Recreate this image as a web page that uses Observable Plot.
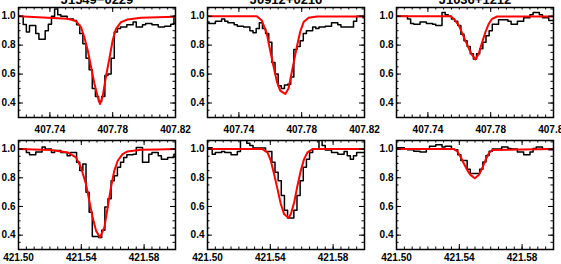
<!DOCTYPE html>
<html><head><meta charset="utf-8">
<script src="https://cdn.jsdelivr.net/npm/d3@7"></script>
<script src="https://cdn.jsdelivr.net/npm/@observablehq/plot@0.6"></script>
<style>
html,body{margin:0;padding:0;background:#fff;overflow:hidden;}
#chart{position:relative;width:561px;height:264px;overflow:hidden;background:#fff;}
#chart svg{position:absolute;}
</style></head><body><div id="chart"></div>
<script>
const titles = ["J1549\u22120229", "J0912+0216", "J1036+1212"];

const topWave = [407.720,407.722,407.724,407.726,407.728,407.730,407.732,407.734,407.736,407.738,
  407.740,407.742,407.744,407.746,407.748,407.750,407.752,407.754,407.756,407.758,
  407.760,407.762,407.764,407.766,407.768,407.770,407.772,407.774,407.776,407.778,
  407.780,407.782,407.784,407.786,407.788,407.790,407.792,407.794,407.796,407.798,
  407.800,407.802,407.804,407.806,407.808,407.810,407.812,407.814,407.816,407.818,407.820];
const bottomWave = [421.500,421.502,421.504,421.506,421.508,421.510,421.512,421.514,421.516,421.518,
  421.520,421.522,421.524,421.526,421.528,421.530,421.532,421.534,421.536,421.538,
  421.540,421.542,421.544,421.546,421.548,421.550,421.552,421.554,421.556,421.558,
  421.560,421.562,421.564,421.566,421.568,421.570,421.572,421.574,421.576,421.578,
  421.580,421.582,421.584,421.586,421.588,421.590,421.592,421.594,421.596,421.598,421.600];

const flux1 = [1.00,1.00,0.943,0.89,0.935,0.935,0.88,0.84,0.84,0.90,
  0.945,1.00,1.05,1.01,1.00,1.00,0.98,0.98,0.97,0.94,
  0.88,0.81,0.71,0.63,0.50,0.445,0.41,0.445,0.59,0.60,
  0.71,0.89,0.915,0.925,0.925,0.94,0.94,0.96,0.925,0.925,
  0.94,0.95,0.95,0.94,0.94,0.925,0.925,0.93,0.93,0.945,1.00];
const flux2 = [0.96,0.95,0.95,0.965,0.965,0.98,0.965,0.955,0.955,0.94,
  0.93,0.93,0.925,0.925,0.90,0.885,0.915,0.955,0.915,0.88,
  0.82,0.68,0.60,0.52,0.50,0.525,0.53,0.58,0.77,0.79,
  0.83,0.88,0.90,0.90,0.925,0.915,0.925,0.925,0.93,0.93,
  0.955,0.955,0.94,0.925,0.925,0.925,0.925,0.965,1.00,1.00,0.99];
const flux3 = [1.0,1.0,1.0,1.0,0.98,0.95,0.945,0.945,0.96,0.96,
  0.95,0.95,0.945,0.935,0.935,1.025,1.01,1.0,0.98,0.965,
  0.935,0.875,0.83,0.79,0.74,0.705,0.74,0.775,0.82,0.865,
  0.90,0.945,0.945,0.975,0.975,0.975,0.965,0.945,0.945,0.965,
  0.965,0.99,0.99,1.01,1.025,1.025,1.01,0.99,0.99,0.97,0.97];
const flux4 = [1.0,1.0,1.0,0.977,0.96,0.96,0.98,0.98,1.015,1.0,
  1.0,0.977,0.99,0.99,0.977,0.977,0.954,0.977,0.977,0.908,
  0.85,0.896,0.70,0.56,0.39,0.39,0.384,0.435,0.596,0.654,
  0.78,0.815,0.873,0.908,0.942,0.96,0.96,0.965,1.011,1.011,
  0.908,0.908,0.965,0.977,0.977,0.954,0.93,0.93,0.942,0.942,0.965];
const flux5 = [1.01,1.01,0.965,0.977,0.977,0.984,0.977,0.977,0.96,0.96,
  0.984,1.07,1.07,1.04,1.025,1.008,1.008,1.008,1.008,0.984,
  0.984,0.908,0.838,0.78,0.677,0.573,0.52,0.52,0.573,0.677,
  0.78,0.873,0.93,0.977,1.0,1.0,1.07,1.025,0.993,0.993,
  0.977,0.977,0.965,0.965,0.984,0.954,0.93,0.954,0.977,0.977,0.977];
const flux6 = [1.01,1.01,1.01,1.0,0.995,0.995,0.985,0.985,0.98,0.98,
  1.0,1.02,1.02,1.03,1.03,1.015,1.02,1.02,1.0,0.995,
  0.96,0.92,0.92,0.86,0.83,0.83,0.83,0.86,0.91,0.955,
  0.985,1.0,1.0,1.0,1.015,1.015,1.005,1.0,1.0,0.98,
  0.98,0.96,0.96,0.98,1.005,1.015,1.015,1.0,1.0,0.995,0.995];

const fitWave1 = [407.720,407.7513,407.7566,407.7598,407.7619,407.7641,407.7662,407.7683,407.7704,407.7719,407.7736,407.7757,407.7779,407.7800,407.7821,407.7853,407.7895,407.7980,407.8086,407.820];
const fitFlux1 = [1.000,0.982,0.966,0.925,0.856,0.765,0.651,0.537,0.445,0.393,0.445,0.583,0.708,0.834,0.913,0.959,0.977,0.989,0.993,0.996];
const fitWave2 = [407.720,407.7514,407.7546,407.7578,407.7599,407.7621,407.7642,407.7663,407.7695,407.7716,407.7727,407.7748,407.7769,407.7790,407.7812,407.7844,407.7897,407.820];
const fitFlux2 = [1.0,1.0,0.970,0.879,0.765,0.651,0.548,0.486,0.463,0.500,0.560,0.674,0.788,0.891,0.959,0.989,0.998,0.998];
const fitWave3 = [407.720,407.7544,407.7565,407.7597,407.7629,407.7661,407.7682,407.7703,407.7724,407.7746,407.7767,407.7788,407.7809,407.7841,407.820];
const fitFlux3 = [1.0,1.0,0.982,0.936,0.856,0.777,0.731,0.701,0.742,0.822,0.891,0.948,0.982,0.998,0.998];
const fitWave4 = [421.500,421.5101,421.5207,421.5313,421.5366,421.5398,421.5430,421.5451,421.5472,421.5494,421.5519,421.5547,421.5568,421.5589,421.5610,421.5632,421.5663,421.5695,421.5780,421.5886,421.600];
const fitFlux4 = [1.0,0.998,0.993,0.977,0.942,0.872,0.756,0.640,0.524,0.431,0.384,0.454,0.593,0.733,0.849,0.919,0.965,0.984,0.995,0.998,1.0];
const fitWave5 = [421.500,421.5350,421.5382,421.5403,421.5424,421.5446,421.5467,421.5488,421.5516,421.5531,421.5552,421.5573,421.5594,421.5615,421.5637,421.5669,421.600];
const fitFlux5 = [1.0,1.0,0.977,0.919,0.826,0.721,0.617,0.547,0.520,0.547,0.628,0.745,0.849,0.930,0.977,1.0,1.0];
const fitWave6 = [421.500,421.5365,421.5386,421.5408,421.5429,421.5450,421.5471,421.5499,421.5524,421.5546,421.5567,421.5588,421.5609,421.600];
const fitFlux6 = [1.0,1.0,0.986,0.947,0.900,0.855,0.820,0.797,0.820,0.866,0.924,0.970,0.993,1.0];

const topXTicks = [407.74, 407.78, 407.82];
const bottomXTicks = [421.50, 421.54, 421.58];
const yTicks = [0.4, 0.6, 0.8, 1.0];
const topXDomain = [407.72, 407.82];
const bottomXDomain = [421.50, 421.60];
const yDomain = [0.3, 1.06];

// layout (pixels of the frames)
const colFrames = [[18, 175], [207, 364], [396, 553]];
const rowFrames = [[7, 117], [140, 249]];

const panels = [
  {col:0,row:0,wave:topWave,flux:flux1,fitW:fitWave1,fitF:fitFlux1,xDomain:topXDomain,xTicks:topXTicks,title:titles[0]},
  {col:1,row:0,wave:topWave,flux:flux2,fitW:fitWave2,fitF:fitFlux2,xDomain:topXDomain,xTicks:topXTicks,title:titles[1]},
  {col:2,row:0,wave:topWave,flux:flux3,fitW:fitWave3,fitF:fitFlux3,xDomain:topXDomain,xTicks:topXTicks,title:titles[2]},
  {col:0,row:1,wave:bottomWave,flux:flux4,fitW:fitWave4,fitF:fitFlux4,xDomain:bottomXDomain,xTicks:bottomXTicks},
  {col:1,row:1,wave:bottomWave,flux:flux5,fitW:fitWave5,fitF:fitFlux5,xDomain:bottomXDomain,xTicks:bottomXTicks},
  {col:2,row:1,wave:bottomWave,flux:flux6,fitW:fitWave6,fitF:fitFlux6,xDomain:bottomXDomain,xTicks:bottomXTicks}
];

const chart = document.getElementById("chart");
for (const p of panels) {
  const [L, R] = colFrames[p.col];
  const [T, B] = rowFrames[p.row];
  const W = R - L, H = B - T;
  const ml = 18, mr = 16;
  const mt = p.row === 0 ? T : 14;
  const mb = p.row === 0 ? 20 : 264 - B;
  const labelPad = p.row === 0 ? 8 : 4.5;
  const hist = p.wave.map((w, i) => ({w, f: p.flux[i]}));
  const fit = p.fitW.map((w, i) => ({w, f: p.fitF[i]}));
  const minorX = d3.range(p.xDomain[0], p.xDomain[1] + 1e-9, 0.005);
  const minorY = d3.range(yDomain[0], yDomain[1] + 1e-9, 0.05);
  const marks = [
    Plot.line(hist, {x: "w", y: "f", curve: "step", stroke: "black", strokeWidth: 1.5, clip: true}),
    Plot.line(fit, {x: "w", y: "f", stroke: "#ff0000", strokeWidth: 2, clip: true}),
    Plot.tickX(minorX, {x: d => d, insetTop: H - 2.5, stroke: "black"}),
    Plot.tickX(minorX, {x: d => d, insetBottom: H - 2.5, stroke: "black"}),
    Plot.tickX(p.xTicks, {x: d => d, insetTop: H - 5, stroke: "black"}),
    Plot.tickX(p.xTicks, {x: d => d, insetBottom: H - 5, stroke: "black"}),
    Plot.tickY(minorY, {y: d => d, insetRight: W - 2.5, stroke: "black"}),
    Plot.tickY(minorY, {y: d => d, insetLeft: W - 2.5, stroke: "black"}),
    Plot.tickY(yTicks, {y: d => d, insetRight: W - 5, stroke: "black"}),
    Plot.tickY(yTicks, {y: d => d, insetLeft: W - 5, stroke: "black"}),
    Plot.frame({stroke: "black", strokeWidth: 1.5}),
    Plot.axisX({ticks: p.xTicks, tickSize: 0, tickPadding: labelPad, tickFormat: ".2f", label: null, fill: "black"}),
    Plot.axisY({ticks: yTicks, tickSize: 0, tickPadding: 3, tickFormat: ".1f", label: null, fill: "black"})
  ];
  if (p.title) {
    marks.push(Plot.text([p.title], {text: d => d, frameAnchor: "top", dy: -3.5, lineAnchor: "bottom", fontSize: 13, fill: "black"}));
  }
  const svg = Plot.plot({
    width: ml + W + mr,
    height: mt + H + mb,
    marginLeft: ml, marginRight: mr, marginTop: mt, marginBottom: mb,
    x: {domain: p.xDomain},
    y: {domain: yDomain},
    style: {background: "transparent", overflow: "visible", fontFamily: "'Liberation Sans', Arial, sans-serif", fontSize: "10px", fontWeight: "bold", color: "black"},
    marks
  });
  svg.style.left = (L - ml) + "px";
  svg.style.top = (T - mt) + "px";
  chart.appendChild(svg);
}
</script></body></html>
